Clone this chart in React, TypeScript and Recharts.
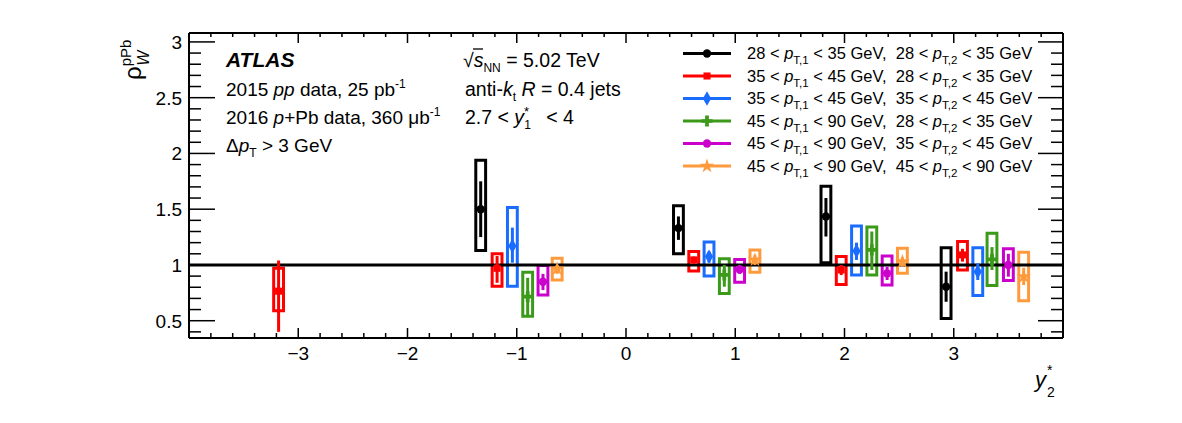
import React from 'react';
import {
  ComposedChart,
  Scatter,
  XAxis,
  YAxis,
  ReferenceLine,
  ReferenceArea,
  ErrorBar,
  Symbols,
} from 'recharts';

const FONT = "'Liberation Sans', Arial, Helvetica, sans-serif";
const W = 1182;
const H = 423;

// ---- axis ticks ----
const xMajorTicks = [-3, -2, -1, 0, 1, 2, 3];
const xAllTicks = Array.from({ length: 39 }, (_, i) => Math.round((-3.8 + i * 0.2) * 10) / 10);
const yMajorTicks = [0.5, 1, 1.5, 2, 2.5, 3];
const yAllTicks = Array.from({ length: 27 }, (_, i) => Math.round((0.4 + i * 0.1) * 10) / 10);
const xDomain = [-4, 4];
const yDomain = [0.345, 3.08];

// ---- data: x = y2*, y = rho, stat and sys bands ----
type Pt = { x: number; y: number; statLo: number; statHi: number; sysLo: number; sysHi: number };

const blackPts: Pt[] = [
  { x: -1.33, y: 1.5, statLo: 1.25, statHi: 1.75, sysLo: 1.13, sysHi: 1.94 },
  { x: 0.48, y: 1.33, statLo: 1.225, statHi: 1.435, sysLo: 1.1, sysHi: 1.53 },
  { x: 1.83, y: 1.435, statLo: 1.255, statHi: 1.6, sysLo: 1.02, sysHi: 1.705 },
  { x: 2.93, y: 0.805, statLo: 0.67, statHi: 0.94, sysLo: 0.52, sysHi: 1.155 },
];
const redPts: Pt[] = [
  { x: -3.18, y: 0.765, statLo: 0.4, statHi: 1.04, sysLo: 0.59, sysHi: 0.97 },
  { x: -1.18, y: 0.97, statLo: 0.84, statHi: 1.08, sysLo: 0.81, sysHi: 1.1 },
  { x: 0.62, y: 1.045, statLo: 1.01, statHi: 1.075, sysLo: 0.945, sysHi: 1.12 },
  { x: 1.97, y: 0.955, statLo: 0.91, statHi: 1.0, sysLo: 0.825, sysHi: 1.075 },
  { x: 3.08, y: 1.09, statLo: 1.03, statHi: 1.145, sysLo: 0.955, sysHi: 1.21 },
];
const bluePts: Pt[] = [
  { x: -1.04, y: 1.17, statLo: 1.02, statHi: 1.335, sysLo: 0.81, sysHi: 1.515 },
  { x: 0.76, y: 1.075, statLo: 1.02, statHi: 1.12, sysLo: 0.9, sysHi: 1.205 },
  { x: 2.11, y: 1.125, statLo: 1.045, statHi: 1.2, sysLo: 0.91, sysHi: 1.35 },
  { x: 3.22, y: 0.94, statLo: 0.865, statHi: 1.015, sysLo: 0.725, sysHi: 1.155 },
];
const greenPts: Pt[] = [
  { x: -0.9, y: 0.715, statLo: 0.55, statHi: 0.885, sysLo: 0.54, sysHi: 0.935 },
  { x: 0.9, y: 0.91, statLo: 0.805, statHi: 1.0, sysLo: 0.745, sysHi: 1.055 },
  { x: 2.25, y: 1.135, statLo: 0.955, statHi: 1.3, sysLo: 0.91, sysHi: 1.34 },
  { x: 3.35, y: 1.05, statLo: 0.955, statHi: 1.16, sysLo: 0.815, sysHi: 1.285 },
];
const magentaPts: Pt[] = [
  { x: -0.76, y: 0.85, statLo: 0.775, statHi: 0.92, sysLo: 0.73, sysHi: 0.995 },
  { x: 1.04, y: 0.96, statLo: 0.92, statHi: 1.0, sysLo: 0.845, sysHi: 1.05 },
  { x: 2.39, y: 0.925, statLo: 0.865, statHi: 0.985, sysLo: 0.82, sysHi: 1.08 },
  { x: 3.5, y: 1.0, statLo: 0.895, statHi: 1.1, sysLo: 0.86, sysHi: 1.145 },
];
const orangePts: Pt[] = [
  { x: -0.63, y: 0.965, statLo: 0.92, statHi: 1.0, sysLo: 0.865, sysHi: 1.06 },
  { x: 1.18, y: 1.045, statLo: 1.0, statHi: 1.09, sysLo: 0.935, sysHi: 1.135 },
  { x: 2.53, y: 1.03, statLo: 0.985, statHi: 1.07, sysLo: 0.925, sysHi: 1.15 },
  { x: 3.64, y: 0.895, statLo: 0.82, statHi: 0.975, sysLo: 0.68, sysHi: 1.115 },
];

const pt1Lo = ['28', '35', '35', '45', '45', '45'];
const pt1Hi = ['35', '45', '45', '90', '90', '90'];
const pt2Lo = ['28', '28', '35', '28', '35', '45'];
const pt2Hi = ['35', '35', '45', '35', '45', '90'];
const seriesColors = ['#000000', '#ff0000', '#1a6cff', '#3c9a1a', '#cc00cc', '#ff9a3c'];
const seriesShapes = ['circle', 'square', 'diamond', 'cross', 'circle', 'star'];
const seriesSizes = [55, 50, 60, 70, 55, 65];
const seriesPoints = [blackPts, redPts, bluePts, greenPts, magentaPts, orangePts];

const BOX_HALF = 0.045;

const series = seriesPoints.map((pts, i) => ({
  color: seriesColors[i],
  shape: seriesShapes[i],
  size: seriesSizes[i],
  pts,
  data: pts.map((p) => ({ x: p.x, y: p.y, err: [p.y - p.statLo, p.statHi - p.y] })),
}));

const fmt = (v: number) => (v < 0 ? '\u2212' + Math.abs(v) : String(v));
const isMajorX = (v: number) => xMajorTicks.some((t) => Math.abs(t - v) < 1e-6);
const isMajorY = (v: number) => yMajorTicks.some((t) => Math.abs(t - v) < 1e-6);
const frameStyle = { stroke: '#000', strokeWidth: 2 };
const TICK_W = 1.5;

const BottomTick = (props: any) => {
  const { x, y, payload } = props;
  const v = payload.value;
  const major = isMajorX(v);
  return (
    <g>
      <line x1={x} x2={x} y1={y} y2={y - (major ? 10 : 5)} stroke="#000" strokeWidth={TICK_W} />
      {major && (
        <text x={x} y={y + 22} textAnchor="middle" fontSize={19} fontFamily={FONT} fill="#000">
          {fmt(v)}
        </text>
      )}
    </g>
  );
};
const TopTick = (props: any) => {
  const { x, y, payload } = props;
  const major = isMajorX(payload.value);
  return <line x1={x} x2={x} y1={y} y2={y + (major ? 10 : 4)} stroke="#000" strokeWidth={TICK_W} />;
};
const LeftTick = (props: any) => {
  const { x, y, payload } = props;
  const v = payload.value;
  const major = isMajorY(v);
  return (
    <g>
      <line x1={x} x2={x + (major ? 26 : 12)} y1={y} y2={y} stroke="#000" strokeWidth={TICK_W} />
      {major && (
        <text x={x - 7} y={y + 7} textAnchor="end" fontSize={19} fontFamily={FONT} fill="#000">
          {fmt(v)}
        </text>
      )}
    </g>
  );
};
const RightTick = (props: any) => {
  const { x, y, payload } = props;
  const major = isMajorY(payload.value);
  return <line x1={x} x2={x - (major ? 25 : 12)} y1={y} y2={y} stroke="#000" strokeWidth={TICK_W} />;
};

function Overlay() {
  const legendX0 = 683;
  const legendX1 = 731;
  const legendTextX = 747;
  const rowY0 = 53.5;
  const rowStep = 22.5;
  return (
    <svg
      width={W}
      height={H}
      style={{ position: 'absolute', left: 0, top: 0, pointerEvents: 'none', fontFamily: FONT }}
    >
      {/* left text block */}
      <text x={226} y={67} fontSize={21} fontWeight="bold" fontStyle="italic">
        ATLAS
      </text>
      <text x={226} y={96} fontSize={19}>
        2015 <tspan fontStyle="italic">pp</tspan> data, 25 pb
        <tspan fontSize={12} dy={-8}>-1</tspan>
      </text>
      <text x={226} y={124} fontSize={19}>
        2016 <tspan fontStyle="italic">p</tspan>+Pb data, 360 μb
        <tspan fontSize={12} dy={-8}>-1</tspan>
      </text>
      <text x={226} y={152} fontSize={19}>
        Δ<tspan fontStyle="italic">p</tspan>
        <tspan fontSize={12} dy={5}>T</tspan>
        <tspan dy={-5}> &gt; 3 GeV</tspan>
      </text>

      {/* middle text block */}
      <text x={463} y={67} fontSize={19.5}>
        √<tspan fontStyle="italic">s</tspan>
        <tspan fontSize={12} dy={5}>NN</tspan>
        <tspan dy={-5}> = 5.02 TeV</tspan>
      </text>
      <line x1={473} y1={49} x2={483} y2={49} stroke="#000" strokeWidth={1.3} />
      <text x={465} y={96} fontSize={19.5}>
        anti-<tspan fontStyle="italic">k</tspan>
        <tspan fontSize={12} dy={5}>t</tspan>
        <tspan dy={-5}> </tspan>
        <tspan fontStyle="italic">R</tspan> = 0.4 jets
      </text>
      <text x={465} y={124} fontSize={19.5} style={{ whiteSpace: 'pre' }}>
        2.7 &lt; <tspan fontStyle="italic">y</tspan>
        <tspan fontSize={13} dy={-8}>*</tspan>
        <tspan fontSize={12} dx={-5} dy={13}>1</tspan>
        <tspan dx={10} dy={-5}>{' < 4'}</tspan>
      </text>

      {/* legend */}
      {series.map((s, i) => {
        const cy = rowY0 + i * rowStep;
        return (
          <g key={i}>
            <line x1={legendX0} y1={cy} x2={legendX1} y2={cy} stroke={s.color} strokeWidth={3} />
            <Symbols cx={(legendX0 + legendX1) / 2} cy={cy} type={s.shape as any} size={s.size} fill={s.color} />
            <text x={legendTextX} y={cy + 5.5} fontSize={16.5} style={{ whiteSpace: 'pre' }}>
              {pt1Lo[i]} &lt; <tspan fontStyle="italic">p</tspan>
              <tspan fontSize={11.5} dy={5}>T,1</tspan>
              <tspan dy={-5}>{` < ${pt1Hi[i]} GeV,  ${pt2Lo[i]} < `}</tspan>
              <tspan fontStyle="italic">p</tspan>
              <tspan fontSize={11.5} dy={5}>T,2</tspan>
              <tspan dy={-5}>{` < ${pt2Hi[i]} GeV`}</tspan>
            </text>
          </g>
        );
      })}

      {/* y axis title */}
      <text transform="translate(141,80) rotate(-90)" fontSize={24}>
        ρ<tspan fontSize={15} dy={-10}>pPb</tspan>
        <tspan fontSize={16} fontStyle="italic" dx={-26} dy={18}>W</tspan>
      </text>

      {/* x axis title */}
      <text x={1035} y={387} fontSize={22}>
        <tspan fontStyle="italic">y</tspan>
        <tspan fontSize={14} dx={1} dy={-12}>*</tspan>
      </text>
      <text x={1047} y={397} fontSize={14}>
        2
      </text>
    </svg>
  );
}

export default function App() {
  return (
    <div style={{ position: 'absolute', left: 0, top: 0, width: W, height: H, background: '#fff' }}>
      <ComposedChart width={W} height={H} margin={{ left: 129, right: 118, top: 32, bottom: 55 }}>
        <XAxis
          xAxisId="main"
          type="number"
          dataKey="x"
          domain={xDomain}
          ticks={xAllTicks}
          orientation="bottom"
          height={30}
          tickSize={0}
          tickMargin={0}
          axisLine={frameStyle}
          tickLine={false}
          tick={BottomTick}
          allowDataOverflow
          interval={0}
        />
        <XAxis
          xAxisId="top"
          type="number"
          dataKey="x"
          domain={xDomain}
          ticks={xAllTicks}
          orientation="top"
          height={1}
          tickSize={0}
          tickMargin={0}
          axisLine={frameStyle}
          tickLine={false}
          tick={TopTick}
          allowDataOverflow
          interval={0}
        />
        <YAxis
          yAxisId="main"
          type="number"
          domain={yDomain}
          ticks={yAllTicks}
          orientation="left"
          width={60}
          tickSize={0}
          tickMargin={0}
          axisLine={frameStyle}
          tickLine={false}
          tick={LeftTick}
          allowDataOverflow
          interval={0}
        />
        <YAxis
          yAxisId="right"
          type="number"
          domain={yDomain}
          ticks={yAllTicks}
          orientation="right"
          width={1}
          tickSize={0}
          tickMargin={0}
          axisLine={frameStyle}
          tickLine={false}
          tick={RightTick}
          allowDataOverflow
          interval={0}
        />

        <ReferenceLine xAxisId="main" yAxisId="main" y={1} stroke="#000" strokeWidth={3} ifOverflow="visible" />

        {series.map((s, i) =>
          s.pts.map((p, j) => (
            <ReferenceArea
              key={`box-${i}-${j}`}
              xAxisId="main"
              yAxisId="main"
              x1={p.x - BOX_HALF}
              x2={p.x + BOX_HALF}
              y1={p.sysLo}
              y2={p.sysHi}
              fill="none"
              fillOpacity={0}
              stroke={s.color}
              strokeWidth={3}
              ifOverflow="visible"
            />
          ))
        )}

        {series.map((s, i) => (
          <Scatter
            key={`sc-${i}`}
            xAxisId="main"
            yAxisId="main"
            data={s.data}
            dataKey="y"
            fill={s.color}
            isAnimationActive={false}
            shape={(props: any) => (
              <Symbols cx={props.cx} cy={props.cy} type={s.shape as any} size={s.size} fill={s.color} />
            )}
          >
            <ErrorBar dataKey="err" direction="y" width={0} strokeWidth={3} stroke={s.color} isAnimationActive={false} />
          </Scatter>
        ))}
      </ComposedChart>
      <Overlay />
    </div>
  );
}
